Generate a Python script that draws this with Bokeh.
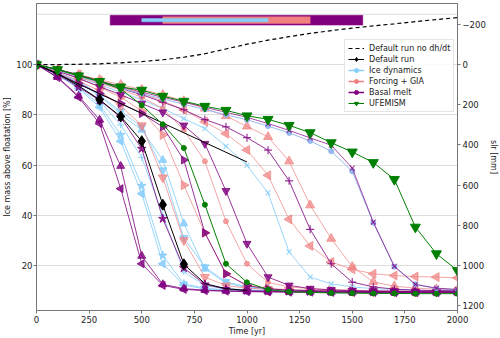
import math
from bokeh.plotting import figure
from bokeh.models import Range1d, LinearAxis, FixedTicker, Span, Legend, LegendItem
from bokeh.embed import file_html
from bokeh.resources import INLINE

# ---------------- data ----------------
years = list(range(0, 2001, 100))

no_dhdt = [100, 100, 100.1, 100.3, 100.7, 101.2, 101.9, 102.9, 104.3, 106.2, 108.1,
           109.7, 111.1, 112.4, 113.5, 114.5, 115.4, 116.2, 117.1, 117.9, 118.7]

default_years = list(range(0, 1001, 100))
default_run = [100, 96.5, 91.5, 86, 79.3, 69.5, 44.2, 20.5, 12.8, 10.8, 10.1]
default_marker_years = [300, 400, 500, 600, 700]
default_marker_vals = [86, 79.3, 69.5, 44.2, 20.5]

linear_years = [0, 1000]
linear_vals = [100, 61.2]

# Ice dynamics runs
ice_x = [100, 97.5, 95, 92, 89, 86, 82.5, 78.5, 74.5, 67.5, 59.9, 48.9, 25.4, 15.4, 12.7, 11.5, 10.8, 10.4, 10.2, 10.1, 10.0]
ice_star = [100, 96, 91, 84, 72, 51.7, 24, 12.7, 11, 10.3, 10, 9.8, 9.7, 9.6, 9.6, 9.5, 9.5, 9.5, 9.5, 9.5, 9.5]
ice_left = [100, 95.8, 90.5, 83, 69.5, 48.6, 20.7, 12.2, 10.7, 10.2, 10, 9.8, 9.7, 9.6, 9.6, 9.5, 9.5, 9.5, 9.5, 9.5, 9.5]
ice_up = [100, 97, 93.5, 88, 80, 74, 62, 36.7, 18.7, 13, 11.2, 10.5, 10.2, 10, 9.9, 9.8, 9.8, 9.7, 9.7, 9.7, 9.7]
ice_down = [100, 96.8, 93, 87.5, 81.5, 75.2, 58, 31, 19.4, 13.5, 11.5, 10.7, 10.3, 10.1, 10, 9.9, 9.9, 9.8, 9.8, 9.8, 9.8]
ice_plus = [100, 96.2, 91.8, 85.5, 76, 63, 40, 17.5, 12, 10.8, 10.3, 10, 9.9, 9.8, 9.8, 9.7, 9.7, 9.7, 9.7, 9.7, 9.7]
ice_dot = [100, 97.5, 95.3, 93, 90.6, 88.4, 86.3, 84.2, 82.1, 80, 78, 75.5, 72.8, 69.6, 65.5, 57.5, 37, 19.5, 12.5, 10.8, 10.3]

# Forcing + GIA runs
frc_left = [100, 98, 96, 93.5, 91, 88.5, 85.5, 82, 77.2, 72.5, 66, 55.9, 38.4, 27.8, 21.4, 18.5, 16.7, 16, 15.6, 15.4, 15.1]
frc_up = [100, 98, 96, 94, 92, 90, 88, 85.5, 82.5, 79.5, 75.4, 71.2, 61.5, 44, 30.7, 19.5, 13.5, 11.8, 11, 10.6, 10.3]
frc_down = [100, 97, 93.5, 89.5, 83.5, 75.8, 55, 30, 15.4, 12, 11, 10.5, 10.2, 10, 9.9, 9.8, 9.7, 9.7, 9.6, 9.6, 9.6]
frc_right = [100, 97.5, 94.5, 91, 87, 81.5, 72, 52, 33, 16.7, 12.2, 10.9, 10.4, 10.1, 10, 9.9, 9.8, 9.8, 9.7, 9.7, 9.7]
frc_dot = [100, 97.5, 95, 92.5, 90, 87, 82.5, 74, 61.5, 37.6, 20.7, 13.3, 11.5, 10.8, 10.4, 10.2, 10, 9.9, 9.8, 9.8, 9.7]

# Basal melt runs
bm_up = [100, 95, 87.5, 78, 59.6, 23.8, 12.5, 10.8, 10.2, 9.9, 9.7, 9.6, 9.5, 9.5, 9.4, 9.4, 9.4, 9.3, 9.3, 9.3, 9.3]
bm_left = [100, 94.8, 87, 76.5, 50.6, 20.7, 12.1, 10.5, 10, 9.8, 9.6, 9.5, 9.4, 9.4, 9.3, 9.3, 9.3, 9.2, 9.2, 9.2, 9.2]
bm_star = [100, 96, 91, 85.8, 79, 66.5, 38.6, 19, 12.5, 10.6, 10, 9.8, 9.7, 9.6, 9.6, 9.5, 9.5, 9.5, 9.5, 9.5, 9.5]
bm_down = [100, 97.5, 94.5, 91.2, 88, 84.5, 81, 75.8, 68.5, 49.7, 28.7, 15.4, 12.1, 10.8, 10.3, 10, 9.8, 9.7, 9.6, 9.5, 9.5]
bm_plus = [100, 98, 95.5, 93, 90.5, 88, 85, 82, 78.1, 75.2, 70.9, 65.9, 53.7, 34.4, 20.7, 13.4, 11.5, 10.6, 10.2, 10, 9.9]
bm_x = [100, 98, 96, 93.5, 91.2, 89, 87, 85, 83, 81, 79, 76.5, 73.8, 70.8, 67.9, 58.8, 37.3, 19.7, 12.5, 11, 10.5]
bm_right = [100, 96.5, 92.5, 88.5, 84.5, 80.5, 75.2, 62, 33, 16.7, 12, 10.7, 10.2, 10, 9.8, 9.7, 9.6, 9.6, 9.5, 9.5, 9.5]

# UFEMISM runs
ufe_main = [100, 98, 95.5, 93.3, 91.1, 89.8, 87.4, 85.4, 83.4, 81.8, 79.6, 78.2, 75.8, 72.9, 68.9, 65.2, 61, 54.3, 35.3, 24.7, 18]
ufe_dot = [100, 98, 95.8, 93.3, 90.3, 83.8, 76.2, 66.8, 44.2, 20.7, 13.3, 10.4, 9.6, 9.3, 9.1, 9.0, 8.9, 8.9, 8.8, 8.8, 8.8]

# ranges of 50 % crossing times (top bars)
bar_groups = ["Basal melt", "Forcing + GIA", "Ice dynamics"]
bar_start = [350, 600, 500]
bar_end = [1550, 1300, 1100]

x_ticks = [0, 250, 500, 750, 1000, 1250, 1500, 1750, 2000]
y_ticks = [20, 40, 60, 80, 100]
slr_ticks = [-200, 0, 200, 400, 600, 800, 1000, 1200]

# ---------------- styling ----------------
C_ICE = "#87CEFA"
C_FRC = "#F08080"
C_BM = "#800080"
C_UFE = "#008000"
C_MIX = "#8FB3EE"
FONT = "DejaVu Sans"

p = figure(width=500, height=338, x_range=Range1d(0, 2000), y_range=Range1d(2.1, 124.3),
           output_backend="svg", toolbar_location=None,
           min_border_left=10, min_border_right=0, min_border_top=3, min_border_bottom=0)
p.background_fill_color = "white"
p.outline_line_color = "#777777"
p.outline_line_width = 1

p.extra_y_ranges = {"slr": Range1d(start=1224, end=-303)}
right_axis = LinearAxis(y_range_name="slr", axis_label="slr [mm]")
p.add_layout(right_axis, "right")

for ax in [p.xaxis[0], p.yaxis[0], right_axis]:
    ax.axis_line_color = "#777777"
    ax.major_tick_line_color = "#777777"
    ax.major_tick_out = 3
    ax.major_tick_in = 0
    ax.minor_tick_line_color = None
    ax.major_label_text_font = FONT
    ax.major_label_text_font_size = "8.5px"
    ax.major_label_text_color = "#222222"
    ax.axis_label_text_font = FONT
    ax.axis_label_text_font_size = "8px"
    ax.axis_label_text_font_style = "normal"
    ax.axis_label_text_color = "#222222"
    ax.major_label_standoff = 2
    ax.axis_label_standoff = 1

p.xaxis[0].ticker = FixedTicker(ticks=x_ticks)
p.xaxis[0].axis_label = "Time [yr]"
p.yaxis[0].ticker = FixedTicker(ticks=y_ticks)
p.yaxis[0].axis_label = "Ice mass above floatation [%]"
p.yaxis[0].major_label_standoff = 1
right_axis.ticker = FixedTicker(ticks=slr_ticks)
right_axis.major_label_overrides = {-200: "\u2212200"}
right_axis.axis_label_standoff = 0

p.xgrid.visible = False
p.ygrid.grid_line_color = "#aaaaaa"
p.ygrid.grid_line_dash = "1 1"
p.ygrid.grid_line_width = 0.8
p.add_layout(Span(location=120, dimension="width", line_color="#aaaaaa",
                  line_dash="1 1", line_width=0.8))

# top bars
bar_y = [117.65, 117.65, 117.65]
bar_h = [3.9, 2.7, 1.3]
bar_col = [C_BM, C_FRC, C_ICE]
for g, s, e, yy, h, c in zip(bar_groups, bar_start, bar_end, bar_y, bar_h, bar_col):
    p.hbar(y=[yy], left=[s], right=[e], height=h, fill_color=c, line_color=c, line_width=0.5)

LEFT = math.pi / 2
RIGHT = -math.pi / 2


def run(vals, color, marker, size, alpha=0.85, angle=0.0, lw=1.0, xs=None):
    xs = years if xs is None else xs
    p.line(xs, vals, line_color=color, line_width=lw, line_alpha=alpha)
    if marker in ("x", "cross"):
        p.scatter(xs, vals, marker=marker, size=size, line_color=color, line_alpha=alpha,
                  line_width=1.2)
    else:
        p.scatter(xs, vals, marker=marker, size=size, angle=angle, fill_color=color,
                  line_color=color, fill_alpha=alpha, line_alpha=alpha)


# Ice dynamics
run(ice_x, C_ICE, "x", 7)
run(ice_star, C_ICE, "star", 9)
run(ice_left, C_ICE, "triangle", 8, angle=LEFT)
run(ice_up, C_ICE, "triangle", 8)
run(ice_down, C_ICE, "inverted_triangle", 8)
run(ice_plus, C_ICE, "cross", 7)
# Forcing + GIA
run(frc_left, C_FRC, "triangle", 9, alpha=0.7, angle=LEFT)
run(frc_up, C_FRC, "triangle", 9, alpha=0.7)
run(frc_down, C_FRC, "inverted_triangle", 9, alpha=0.7)
run(frc_right, C_FRC, "triangle", 9, alpha=0.7, angle=RIGHT)
run(frc_dot, C_FRC, "circle", 5, alpha=0.7)
# Basal melt
run(bm_up, C_BM, "triangle", 8, alpha=0.8)
run(bm_left, C_BM, "triangle", 8, alpha=0.8, angle=LEFT)
run(bm_star, C_BM, "star", 9, alpha=0.8)
run(bm_down, C_BM, "inverted_triangle", 8, alpha=0.8)
run(bm_plus, C_BM, "cross", 8, alpha=0.8)
run(bm_right, C_BM, "triangle", 8, alpha=0.8, angle=RIGHT)
run(ice_dot, C_MIX, "circle", 5, alpha=0.9)
run(bm_x, C_BM, "x", 7, alpha=0.7)

# Default run
p.line(linear_years, linear_vals, line_color="black", line_width=1)
r_def_line = p.line(default_years, default_run, line_color="black", line_width=1)
r_def_mk = p.scatter(default_marker_years, default_marker_vals, marker="diamond", size=11,
                     fill_color="black", line_color="black")

# UFEMISM
run(ufe_dot, C_UFE, "circle", 5, alpha=1.0)
r_ufe_line = p.line(years, ufe_main, line_color=C_UFE, line_width=1)
r_ufe_mk = p.scatter(years, ufe_main, marker="inverted_triangle", size=10,
                     fill_color=C_UFE, line_color=C_UFE)

r_nodh = p.line(years, no_dhdt, line_color="black", line_width=1.2, line_dash="4 3")

# legend proxies: off-screen single points so their legend glyphs are drawn
off_x = [-500]
off_y = [-500]


def proxy(color, marker, size):
    l = p.line(off_x, off_y, line_color=color, line_width=1.5)
    m = p.scatter(off_x, off_y, marker=marker, size=size, fill_color=color, line_color=color)
    return [l, m]


items = [
    LegendItem(label="Default run no dh/dt", renderers=[r_nodh]),
    LegendItem(label="Default run", renderers=[r_def_line, r_def_mk]),
    LegendItem(label="Ice dynamics", renderers=proxy(C_ICE, "circle", 5)),
    LegendItem(label="Forcing + GIA", renderers=proxy(C_FRC, "circle", 5)),
    LegendItem(label="Basal melt", renderers=proxy(C_BM, "circle", 5)),
    LegendItem(label="UFEMISM", renderers=[r_ufe_line, r_ufe_mk]),
]
legend = Legend(items=items)
legend.label_text_font = FONT
legend.label_text_font_size = "8px"
legend.label_text_color = "#222222"
legend.label_height = 9
legend.glyph_height = 10
legend.glyph_width = 16
legend.spacing = 1
legend.padding = 3
legend.margin = 0
legend.label_standoff = 5
legend.border_line_color = "#cccccc"
legend.background_fill_alpha = 0.85
p.add_layout(legend, "center")
legend.location = (308, 198)

open("out.html", "w").write(file_html(p, INLINE))
